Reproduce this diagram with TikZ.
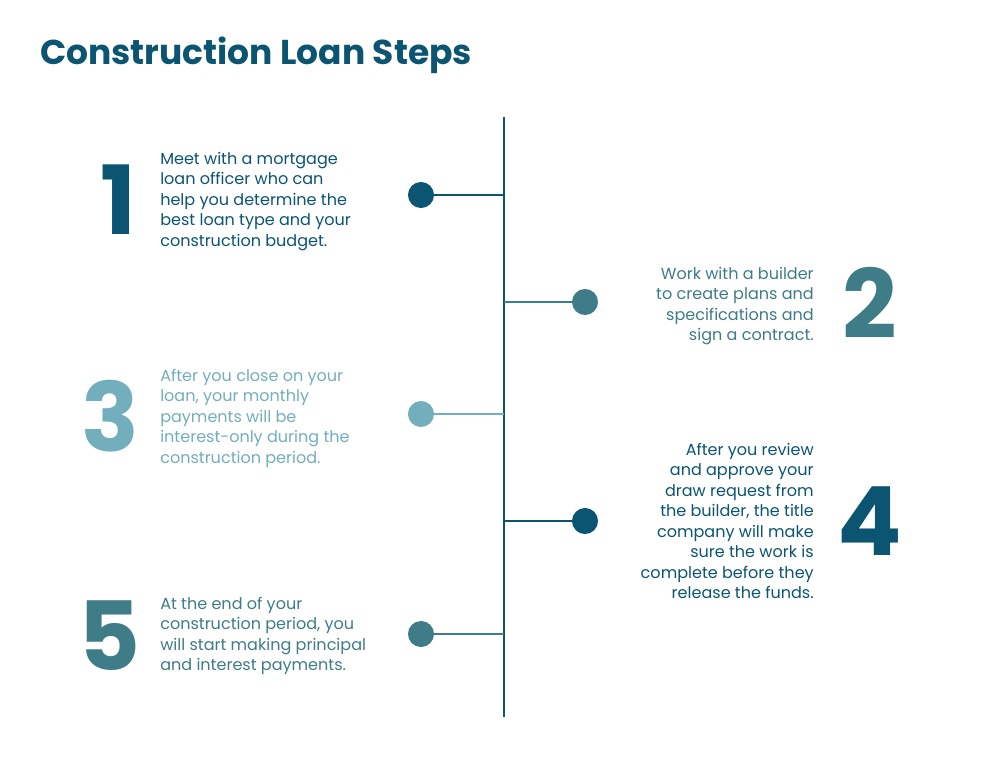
\documentclass[tikz,border=0pt]{standalone}
\usepackage{fontspec}
\setmainfont{Poppins}
\usetikzlibrary{positioning}
\definecolor{dark}{HTML}{0B5573}
\definecolor{mid}{HTML}{3E7C88}
\definecolor{light}{HTML}{72AEBB}
\begin{document}
\begin{tikzpicture}[x=0.0265cm, y=-0.0265cm,
dot/.style={circle,fill,inner sep=0pt,minimum size=0.69cm},
num/.style={font=\fontsize{72}{72}\selectfont\bfseries, inner sep=0pt},
txtl/.style={align=left, anchor=north west, inner sep=0pt, font=\fontsize{12.1}{15.4}\selectfont},
txtr/.style={align=right, anchor=north east, inner sep=0pt, font=\fontsize{12.1}{15.4}\selectfont}]
\useasboundingbox (0,0) rectangle (1000,775);

%title
\node[anchor=west, inner sep=0pt, text=dark, font=\fontsize{26}{30}\selectfont\bfseries] (title) at (40,55) {Construction Loan Steps};

%spine
\coordinate (top) at (504,117);
\coordinate (bot) at (504,717);
\draw[dark, line width=2.2pt] (top) -- (bot);

%steps
\node[dot, dark] (d1) at (421,195) {};
\node[dot, mid] (d2) at (585,302) {};
\node[dot, light] (d3) at (421,414) {};
\node[dot, dark] (d4) at (585,521) {};
\node[dot, mid] (d5) at (421,634) {};
\foreach \D/\C in {1/dark,2/mid,3/light,4/dark,5/mid}
{\draw[\C, line width=2.2pt] (d\D.center) -- (d\D.center -| top); }

\node[num, text=dark] (n1) at (118,200) {1};
\node[num, text=mid] (n2) at (870,303) {2};
\node[num, text=light] (n3) at (110,416) {3};
\node[num, text=dark] (n4) at (870,521) {4};
\node[num, text=mid] (n5) at (110,636) {5};

\node[txtl, text=dark] (t1) at (160,152) {Meet with a mortgage\\loan officer who can\\help you determine the\\best loan type and your\\construction budget.};
\node[txtr, text=mid] (t2) at (814,267) {Work with a builder\\to create plans and\\specifications and\\sign a contract.};
\node[txtl, text=light] (t3) at (160,369) {After you close on your\\loan, your monthly\\payments will be\\interest-only during the\\construction period.};
\node[txtr, text=dark] (t4) at (814,443) {After you review\\and approve your\\draw request from\\the builder, the title\\company will make\\sure the work is\\complete before they\\release the funds.};
\node[txtl, text=mid] (t5) at (160,597) {At the end of your\\construction period, you\\will start making principal\\and interest payments.};
\end{tikzpicture}
\end{document}
